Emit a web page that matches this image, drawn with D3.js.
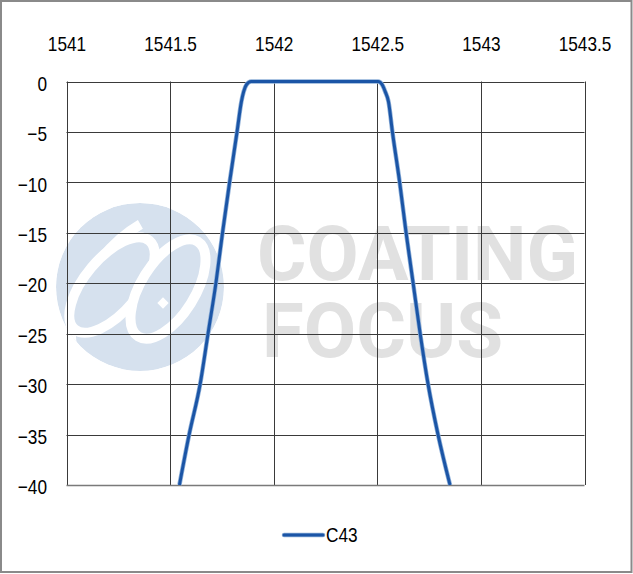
<!DOCTYPE html>
<html>
<head>
<meta charset="utf-8">
<script src="https://cdn.jsdelivr.net/npm/d3@7"></script>
<style>
  html, body { margin: 0; padding: 0; background: #fff; }
  svg { display: block; }
  .lbl { font-family: "Liberation Sans", Arial, sans-serif; font-size: 21px; fill: #000; }
</style>
</head>
<body>
<svg id="chart" width="633" height="574"></svg>
<script>
// ---- data ----
const seriesName = "C43";
const wavelength = [1541.545, 1541.592, 1541.645, 1541.683, 1541.721, 1541.753, 1541.787, 1541.823, 1541.844, 1541.855, 1541.869, 1541.891,
                    1542.0, 1542.25, 1542.504,
                    1542.523, 1542.538, 1542.554, 1542.573, 1542.608, 1542.639, 1542.673, 1542.707, 1542.745, 1542.793, 1542.851];
const transmission = [-40, -35, -30, -25, -20, -15, -10, -5, -2, -1, -0.3, 0,
                      0, 0, 0,
                      -0.3, -1, -2, -5, -10, -15, -20, -25, -30, -35, -40];
const xTicks = [1541, 1541.5, 1542, 1542.5, 1543, 1543.5];
const yTicks = [0, -5, -10, -15, -20, -25, -30, -35, -40];

// ---- layout ----
const svg = d3.select("#chart");
const W = 633, H = 574;
const pL = 66.5, pR = 584.5, pT = 81.5, pB = 485;
const narrow = "scale(0.82,1)";

const x = d3.scaleLinear().domain([1541, 1543.5]).range([pL, pR]);
const y = d3.scaleLinear().domain([-40, 0]).range([pB, pT]);

// outer border
svg.append("rect").attr("x", 1).attr("y", 1).attr("width", W - 2.5).attr("height", H - 3)
  .attr("fill", "#fff").attr("stroke", "#8a8a8a").attr("stroke-width", 2);

// ---- watermark ----
const wm = svg.append("g").attr("class", "watermark");
const logo = wm.append("g").attr("transform", "translate(140,287)");
logo.append("clipPath").attr("id", "logoClip").append("circle").attr("r", 84);
const lc = logo.append("g").attr("clip-path", "url(#logoClip)");
lc.append("circle").attr("r", 84).attr("fill", "#d6e1ee");
lc.append("ellipse").attr("cx", -4).attr("cy", 4).attr("rx", 92).attr("ry", 52)
  .attr("transform", "rotate(-52)").attr("fill", "none").attr("stroke", "#fff").attr("stroke-width", 10)
  .attr("stroke-dasharray", "150 1000").attr("stroke-dashoffset", -250);
lc.append("ellipse").attr("cx", 0).attr("cy", 0).attr("rx", 58).attr("ry", 27)
  .attr("transform", "translate(-28,-2) rotate(-50)").attr("fill", "#d6e1ee").attr("stroke", "#fff").attr("stroke-width", 10);
lc.append("ellipse").attr("cx", 0).attr("cy", 0).attr("rx", 56).attr("ry", 27)
  .attr("transform", "translate(28,2) rotate(-58)").attr("fill", "#d6e1ee").attr("stroke", "#fff").attr("stroke-width", 10);
lc.append("rect").attr("x", -4).attr("y", -4).attr("width", 8).attr("height", 8)
  .attr("transform", "translate(-23,-43) rotate(45)").attr("fill", "#fff");
lc.append("rect").attr("x", -4).attr("y", -4).attr("width", 8).attr("height", 8)
  .attr("transform", "translate(23,16) rotate(45)").attr("fill", "#fff");

const wmText = wm.append("text")
  .style("font-family", "Roboto, 'Liberation Sans', sans-serif").style("font-weight", 700)
  .style("font-size", "76px").style("fill", "#e1e1e1");
wmText.append("tspan").attr("x", 257).attr("y", 280)
  .attr("textLength", 321).attr("lengthAdjust", "spacingAndGlyphs").text("COATING");
wmText.append("tspan").attr("x", 262).attr("y", 357)
  .attr("textLength", 241).attr("lengthAdjust", "spacingAndGlyphs").text("FOCUS");

// ---- grid ----
const grid = svg.append("g");
grid.selectAll("line.v").data(xTicks).join("line").attr("class", "v")
  .attr("x1", d => Math.round(x(d)) + 0.5).attr("x2", d => Math.round(x(d)) + 0.5)
  .attr("y1", pT).attr("y2", pB)
  .attr("stroke", "#3a3a3a").attr("stroke-width", 1);
grid.selectAll("line.h").data(yTicks).join("line").attr("class", "h")
  .attr("x1", pL).attr("x2", pR)
  .attr("y1", d => Math.round(y(d)) + 0.5).attr("y2", d => Math.round(y(d)) + 0.5)
  .attr("stroke", d => d === -40 ? "#7a7a7a" : "#3a3a3a")
  .attr("stroke-width", d => d === -40 ? 1.6 : 1);

// ---- axes labels (top x axis, left y axis) ----
const xAxis = d3.axisTop(x).tickValues(xTicks).tickSize(0).tickPadding(0).tickFormat(d3.format("~g"));
const gx = svg.append("g").attr("transform", "translate(0,51)").call(xAxis);
gx.select(".domain").remove();
gx.attr("font-size", null).attr("font-family", null);
gx.selectAll("text").attr("class", "lbl").attr("dy", 0).attr("transform", narrow);

const yAxis = d3.axisLeft(y).tickValues(yTicks).tickSize(0).tickPadding(0).tickFormat(d3.format("~g"));
const gy = svg.append("g").attr("transform", "translate(47,2)").call(yAxis);
gy.select(".domain").remove();
gy.attr("font-size", null).attr("font-family", null);
gy.selectAll("text").attr("class", "lbl").attr("transform", narrow);

// ---- series ----
const line = d3.line().x((d, i) => x(wavelength[i])).y(d => y(d)).curve(d3.curveMonotoneX);
svg.append("path").datum(transmission)
  .attr("d", line).attr("fill", "none")
  .attr("stroke", "#8fb0d8").attr("stroke-width", 4.5).attr("stroke-linejoin", "round");
svg.append("path").datum(transmission)
  .attr("d", line).attr("fill", "none")
  .attr("stroke", "#1b55a6").attr("stroke-width", 3).attr("stroke-linejoin", "round");

// ---- legend ----
const lg = svg.append("g").attr("transform", "translate(284,535)");
lg.append("line").attr("x1", 0).attr("x2", 39).attr("y1", 0).attr("y2", 0)
  .attr("stroke", "#8fb0d8").attr("stroke-width", 4.5).attr("stroke-linecap", "round");
lg.append("line").attr("x1", 0).attr("x2", 39).attr("y1", 0).attr("y2", 0)
  .attr("stroke", "#1b55a6").attr("stroke-width", 3).attr("stroke-linecap", "round");
lg.append("g").attr("transform", "translate(42,7) " + narrow)
  .append("text").attr("class", "lbl").text(seriesName);
</script>
</body>
</html>
